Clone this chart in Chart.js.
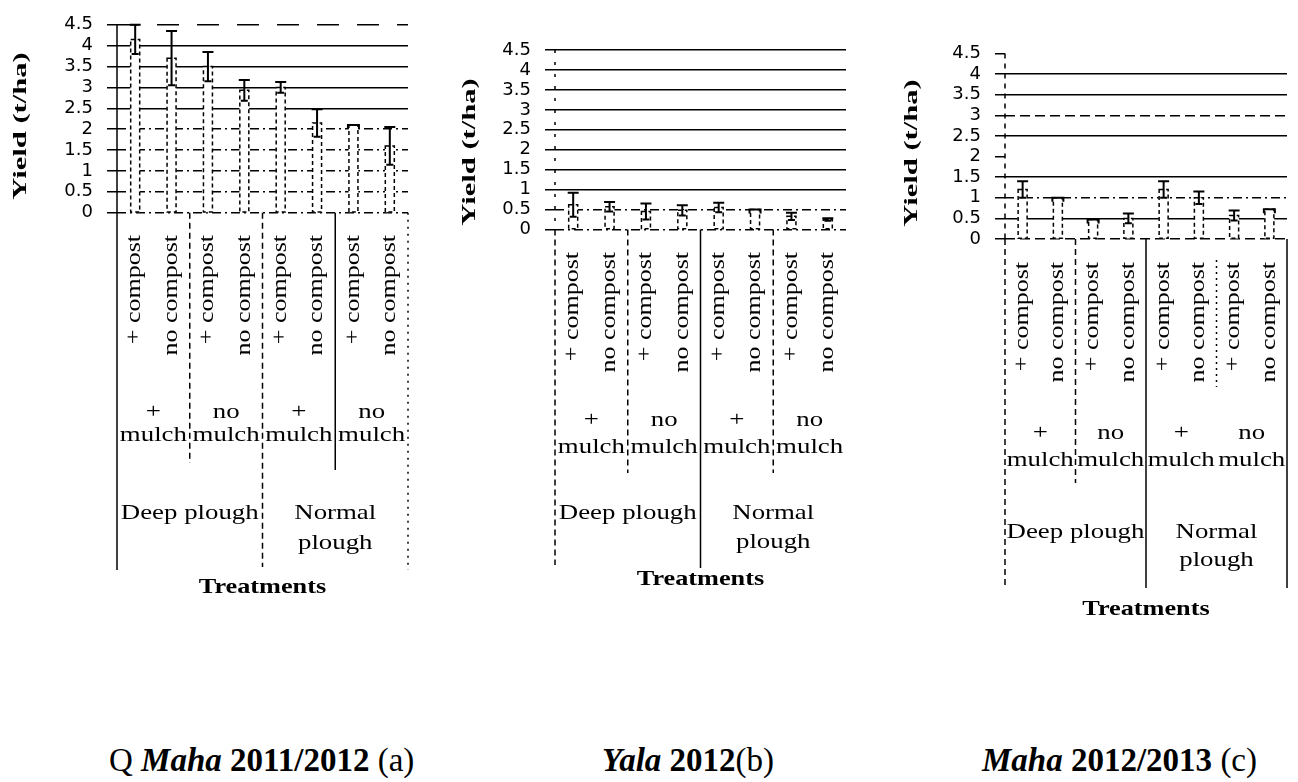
<!DOCTYPE html>
<html>
<head>
<meta charset="utf-8">
<script src="https://cdn.jsdelivr.net/npm/chart.js@4.4.1/dist/chart.umd.min.js"></script>
<style>
html,body{margin:0;padding:0;background:#fff;width:1298px;height:782px;overflow:hidden;position:relative;}
.box{position:absolute;top:0;height:700px;}
.ttl{position:absolute;top:744px;font-family:"Liberation Serif","Times New Roman",serif;font-size:33px;line-height:33px;white-space:nowrap;color:#000;}
.bi{font-weight:bold;font-style:italic;}
.b{font-weight:bold;}
</style>
</head>
<body>
<div class="box" style="left:0;width:440px"><canvas id="ca"></canvas></div>
<div class="box" style="left:440px;width:440px"><canvas id="cb"></canvas></div>
<div class="box" style="left:880px;width:418px"><canvas id="cc"></canvas></div>
<div class="ttl" style="left:109px">Q <span class="bi">Maha</span> <span class="b">2011/2012</span> (a)</div>
<div class="ttl" style="left:602px"><span class="bi">Yala</span> <span class="b">2012</span>(b)</div>
<div class="ttl" style="left:982px"><span class="bi">Maha</span> <span class="b">2012/2013</span> (c)</div>
<script>
// ---------- data ----------
const categories = ['+ compost','no compost','+ compost','no compost','+ compost','no compost','+ compost','no compost'];
const mulchGroups = [['+','mulch'],['no','mulch'],['+','mulch'],['no','mulch']];
const ploughGroups = [['Deep plough'],['Normal','plough']];
const yTickValues = [0,0.5,1,1.5,2,2.5,3,3.5,4,4.5];
const yAxisTitle = 'Yield (t/ha)';
const xAxisTitle = 'Treatments';

const yieldMaha2011 = [4.15,3.7,3.5,2.93,3.0,2.15,2.1,1.6];
const errMaha2011   = [0.35,0.65,0.35,0.25,0.13,0.33,0,0.45];
const yieldYala2012 = [0.62,0.57,0.45,0.48,0.55,0.5,0.33,0.25];
const errYala2012   = [0.3,0.12,0.2,0.13,0.12,0,0.09,0.03];
const yieldMaha2012 = [1.2,1.0,0.47,0.5,1.2,1.0,0.57,0.72];
const errMaha2012   = [0.2,0,0,0.12,0.2,0.15,0.12,0];

// ---------- styling / layout ----------
Chart.defaults.animation = false;
const SERIF = '"Liberation Serif","Times New Roman",serif';
const DASH = {solid:[], dash:[10,5], longdash:[22,18], dashdot:[9,4,2,4], none:[]};

const layouts = {
  a: {h:700, w:440, area:{left:117,right:408,top:22.6,bottom:212.7}, axisDash:[],
      gridStyle:{4.5:'longdash',4:'solid',3.5:'solid',3:'solid',2.5:'solid',2:'dashdot',1.5:'dashdot',1:'dashdot',0.5:'dashdot',0:'dashdot'},
      titleX:21, titleY:126, compostTop:235, mulchY:[412,435], ploughY:[513,543], treatY:588,
      left:{to:570,dash:[]}, right:{to:570,dash:[2,5]},
      seps:[{after:1,to:463,dash:[6,4]},{after:3,to:567,dash:[6,4]},{after:5,to:470,dash:[]}]},
  b: {h:700, w:440, area:{left:115,right:406,top:50,bottom:229.5}, axisDash:[3,9],
      gridStyle:{4.5:'solid',4:'solid',3.5:'solid',3:'solid',2.5:'solid',2:'solid',1.5:'solid',1:'solid',0.5:'dashdot',0:'dashdot'},
      titleX:30, titleY:152, compostTop:252, mulchY:[420,447], ploughY:[513,542], treatY:580,
      left:{to:565,dash:[6,4]}, right:null,
      seps:[{after:1,to:473,dash:[6,4]},{after:3,to:568,dash:[]},{after:5,to:473,dash:[6,4]}]},
  c: {h:700, w:418, area:{left:125,right:407,top:53.4,bottom:239}, axisDash:[5,5],
      gridStyle:{4.5:'none',4:'solid',3.5:'solid',3:'dash',2.5:'solid',2:'none',1.5:'solid',1:'dashdot',0.5:'solid',0:'dash'},
      titleX:32, titleY:153, compostTop:262, mulchY:[433,460], ploughY:[532,560], treatY:610,
      left:{to:587,dash:[6,4]}, right:{to:588,dash:[]},
      seps:[{after:1,to:483,dash:[6,4]},{after:3,to:588,dash:[]},{after:5,from:260,to:387,dash:[2,4]}]}
};

function txt(ctx, s, x, y, font, sx, align) {
  ctx.save();
  ctx.translate(x, y);
  ctx.scale(sx, 1);
  ctx.font = font;
  ctx.fillStyle = '#000';
  ctx.textAlign = align || 'center';
  ctx.textBaseline = 'middle';
  ctx.fillText(s, 0, 0);
  ctx.restore();
}
function vtxt(ctx, s, x, y, font, sx, align) {
  ctx.save();
  ctx.translate(x, y);
  ctx.rotate(-Math.PI / 2);
  ctx.scale(sx, 1);
  ctx.font = font;
  ctx.fillStyle = '#000';
  ctx.textAlign = align || 'center';
  ctx.textBaseline = 'middle';
  ctx.fillText(s, 0, 0);
  ctx.restore();
}
function vline(ctx, x, y1, y2, dash, w) {
  ctx.save();
  ctx.strokeStyle = '#000';
  ctx.lineWidth = w || 1.5;
  ctx.setLineDash(dash || []);
  ctx.beginPath();
  ctx.moveTo(x, y1);
  ctx.lineTo(x, y2);
  ctx.stroke();
  ctx.restore();
}

const decoPlugin = {
  id: 'deco',
  afterDatasetsDraw(chart, args, opts) {
    const ctx = chart.ctx;
    const ys = chart.scales.y;
    const meta = chart.getDatasetMeta(0);
    const errs = opts.errors;
    meta.data.forEach((bar, i) => {
      const p = bar.getProps(['x','y','base','width'], true);
      ctx.save();
      ctx.strokeStyle = '#000';
      ctx.lineWidth = 1.5;
      ctx.setLineDash([4,3]);
      ctx.strokeRect(p.x - p.width / 2, p.y, p.width, p.base - p.y);
      ctx.restore();
      const v = chart.data.datasets[0].data[i];
      const e = errs[i];
      ctx.save();
      ctx.strokeStyle = '#000';
      ctx.lineWidth = 2;
      ctx.beginPath();
      if (e > 0) {
        const yt = ys.getPixelForValue(v + e);
        const yb = ys.getPixelForValue(v - e);
        ctx.moveTo(p.x, yt); ctx.lineTo(p.x, yb);
        ctx.moveTo(p.x - 5.5, yt); ctx.lineTo(p.x + 5.5, yt);
        ctx.moveTo(p.x - 3.5, yb); ctx.lineTo(p.x + 3.5, yb);
      } else {
        ctx.moveTo(p.x - p.width / 2 - 1, p.y + 4);
        ctx.lineTo(p.x - p.width / 2 - 1, p.y);
        ctx.lineTo(p.x + p.width / 2 + 1, p.y);
        ctx.lineTo(p.x + p.width / 2 + 1, p.y + 4);
      }
      ctx.stroke();
      ctx.restore();
    });
  },
  afterDraw(chart, args, opts) {
    const L = opts.layout;
    const ctx = chart.ctx;
    const xs = chart.scales.x;
    const area = chart.chartArea;
    const px = i => xs.getPixelForValue(i);
    const bottom = area.bottom;
    // y axis line (drawn here so it can be dashed like the scan)
    vline(ctx, area.left, area.top, bottom, L.axisDash);
    vline(ctx, area.left, bottom, L.left.to, L.left.dash);
    if (L.right) vline(ctx, area.right, bottom, L.right.to, L.right.dash);
    L.seps.forEach(s => {
      const x = (px(s.after) + px(s.after + 1)) / 2;
      vline(ctx, x, s.from || bottom, s.to, s.dash);
    });
    categories.forEach((c, i) => {
      vtxt(ctx, c, px(i), L.compostTop, '20px ' + SERIF, 1.3, 'right');
    });
    mulchGroups.forEach((g, k) => {
      const x = (px(2 * k) + px(2 * k + 1)) / 2;
      g.forEach((line, j) => txt(ctx, line, x, L.mulchY[j], '22px ' + SERIF, 1.22));
    });
    ploughGroups.forEach((g, k) => {
      const x = (px(4 * k) + px(4 * k + 3)) / 2;
      g.forEach((line, j) => txt(ctx, line, x, L.ploughY[j], '22px ' + SERIF, 1.22));
    });
    const tx = (px(3) + px(4)) / 2;
    txt(ctx, xAxisTitle, tx, L.treatY, 'bold 21px ' + SERIF, 1.25);
    vtxt(ctx, yAxisTitle, L.titleX, L.titleY, 'bold 18px ' + SERIF, 1.7, 'center');
  }
};

function makeChart(id, values, errors, L) {
  const A = L.area;
  return new Chart(document.getElementById(id), {
    type: 'bar',
    data: {
      labels: categories,
      datasets: [{
        data: values,
        backgroundColor: '#ffffff',
        borderWidth: 0,
        barThickness: 9
      }]
    },
    options: {
      responsive: true,
      maintainAspectRatio: false,
      layout: {padding: {left: 0, top: A.top, right: L.w - A.right, bottom: 0}},
      plugins: {
        legend: {display: false},
        tooltip: {enabled: false},
        deco: {errors: errors, layout: L}
      },
      scales: {
        x: {
          grid: {display: false},
          border: {display: false},
          ticks: {display: false},
          afterFit: s => { s.height = L.h - A.bottom; }
        },
        y: {
          min: 0, max: 4.5,
          afterBuildTicks: s => { s.ticks = yTickValues.map(v => ({value: v})); },
          afterFit: s => { s.width = A.left; },
          ticks: {
            autoSkip: false,
            color: '#000',
            padding: 14,
            font: {family: '"DejaVu Sans", sans-serif', size: 18},
            callback: v => String(v)
          },
          grid: {
            color: c => (c.tick && L.gridStyle[c.tick.value] === 'none') ? 'rgba(0,0,0,0)' : '#000',
            lineWidth: 1.5,
            tickLength: 10,
            tickColor: '#000',
            tickWidth: 1.5
          },
          border: {
            display: false,
            dash: c => c.tick ? (DASH[L.gridStyle[c.tick.value]] || []) : []
          }
        }
      }
    },
    plugins: [decoPlugin]
  });
}

makeChart('ca', yieldMaha2011, errMaha2011, layouts.a);
makeChart('cb', yieldYala2012, errYala2012, layouts.b);
makeChart('cc', yieldMaha2012, errMaha2012, layouts.c);
</script>
</body>
</html>
